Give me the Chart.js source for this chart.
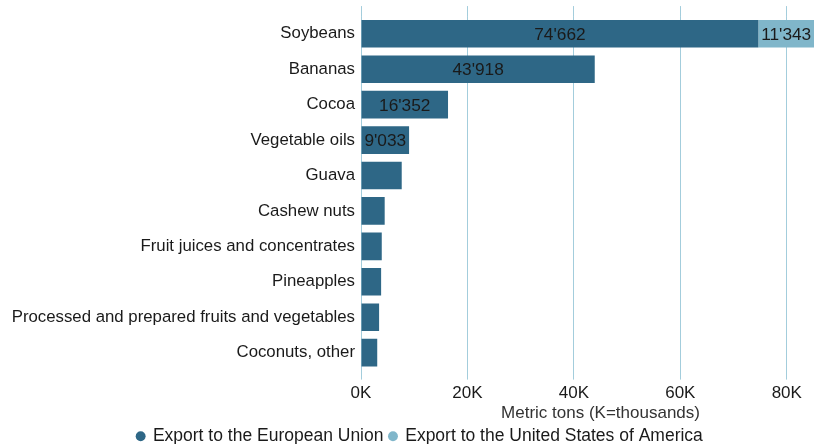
<!DOCTYPE html>
<html>
<head>
<meta charset="utf-8">
<script src="https://cdn.jsdelivr.net/npm/chart.js@4.4.1/dist/chart.umd.min.js"></script>
<style>
  html, body { margin: 0; padding: 0; background: #ffffff; overflow: hidden; }
  #wrap { width: 814px; height: 444px; position: relative; overflow: hidden; }
  #c { position: absolute; left: 0; top: 0; }
</style>
</head>
<body>
<div id="wrap"><canvas id="c" width="840" height="455"></canvas></div>
<script>
const categories = [
  "Soybeans", "Bananas", "Cocoa", "Vegetable oils", "Guava", "Cashew nuts",
  "Fruit juices and concentrates", "Pineapples",
  "Processed and prepared fruits and vegetables", "Coconuts, other"
];
const euValues = [74662, 43918, 16352, 9033, 7650, 4450, 3900, 3780, 3400, 3050];
const usValues = [11343, 0, 0, 0, 0, 0, 0, 0, 0, 0];
const seriesNames = ["Export to the European Union", "Export to the United States of America"];
const xTickValues = [0, 20000, 40000, 60000, 80000];
const xTitle = "Metric tons (K=thousands)";

const FONT = "'Liberation Sans', Arial, sans-serif";
const EU_COLOR = '#2e6786';
const US_COLOR = '#80b6ca';
const GRID_COLOR = '#a3cddc';

function fmt(v) {
  return Math.round(v).toString().replace(/\B(?=(\d{3})+(?!\d))/g, "'");
}

const labelPlugin = {
  id: 'barLabels',
  afterDatasetsDraw(chart) {
    const ctx = chart.ctx;
    const area = chart.chartArea;
    const visibleRight = Math.min(area.right, 814);
    ctx.save();
    ctx.font = '17.3px ' + FONT;
    ctx.fillStyle = '#1a1a1a';
    ctx.textAlign = 'center';
    ctx.textBaseline = 'middle';
    chart.data.datasets.forEach((ds, di) => {
      const meta = chart.getDatasetMeta(di);
      meta.data.forEach((bar, i) => {
        const v = ds.data[i];
        if (!v) return;
        const x1 = Math.min(bar.x, visibleRight);
        const x0 = Math.max(bar.base, area.left);
        const w = x1 - x0;
        const t = fmt(v);
        if (ctx.measureText(t).width + 4 > w) return;
        ctx.fillText(t, (x0 + x1) / 2, bar.y + 1.5);
      });
    });
    ctx.restore();
  }
};

new Chart(document.getElementById('c'), {
  type: 'bar',
  data: {
    labels: categories,
    datasets: [
      { label: seriesNames[0], data: euValues, backgroundColor: EU_COLOR, borderWidth: 0,
        barPercentage: 0.78, categoryPercentage: 1.0 },
      { label: seriesNames[1], data: usValues, backgroundColor: US_COLOR, borderWidth: 0,
        barPercentage: 0.78, categoryPercentage: 1.0 }
    ]
  },
  options: {
    indexAxis: 'y',
    responsive: false,
    animation: false,
    devicePixelRatio: 1,
    layout: { padding: { top: 5, right: 0, left: 0, bottom: 0 } },
    scales: {
      x: {
        type: 'linear', stacked: true, min: 0, max: 90000,
        afterBuildTicks(scale) { scale.ticks = xTickValues.map(v => ({ value: v })); },
        ticks: {
          includeBounds: false,
          color: '#1a1a1a',
          font: { family: FONT, size: 17 },
          padding: 3.9,
          callback: (v) => (v / 1000) + 'K'
        },
        grid: { color: GRID_COLOR, lineWidth: 1, drawTicks: true, tickLength: 9.25 },
        border: { display: false },
        title: { display: true, text: xTitle, color: '#333333',
                 font: { family: FONT, size: 17 }, padding: { top: -4.7, bottom: -2 } }
      },
      x2: {
        type: 'linear', position: 'top', min: 0, max: 90000,
        afterBuildTicks(scale) { scale.ticks = xTickValues.map(v => ({ value: v })); },
        ticks: { display: false },
        grid: { color: GRID_COLOR, drawOnChartArea: false, drawTicks: true, tickLength: 10 },
        border: { display: false }
      },
      y: {
        type: 'category', stacked: true,
        afterFit(scale) { scale.width = 361; },
        ticks: { color: '#1a1a1a', font: { family: FONT, size: 16.8 }, padding: 6 },
        grid: { display: false, drawTicks: false },
        border: { display: false }
      }
    },
    plugins: {
      legend: {
        position: 'bottom',
        labels: {
          usePointStyle: true, pointStyle: 'circle', boxWidth: 7, boxHeight: 7,
          color: '#1a1a1a', font: { family: FONT, size: 17.5 }, padding: 6
        }
      },
      tooltip: { enabled: false }
    }
  },
  plugins: [labelPlugin]
});
</script>
</body>
</html>
